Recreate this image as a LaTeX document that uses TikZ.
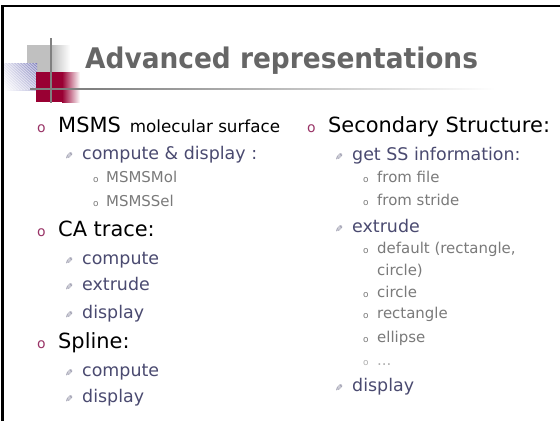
\documentclass[tikz,border=0pt]{standalone}
\usepackage{fontspec}
\usetikzlibrary{shadings}
\setmainfont{DejaVu Sans}
\newfontfamily\titlefont[FakeStretch=0.93]{DejaVu Sans}
\definecolor{titlegray}{RGB}{102,102,102}
\definecolor{bulletred}{RGB}{153,51,102}
\definecolor{subtext}{RGB}{74,74,112}
\definecolor{penmark}{RGB}{120,120,145}
\definecolor{leaftext}{RGB}{122,122,122}
\definecolor{logored}{RGB}{153,0,51}
\definecolor{logoblue}{RGB}{110,110,180}
\definecolor{logogray}{RGB}{192,192,192}
\newcommand{\penbullet}{\reflectbox{✎}}
\begin{document}
\begin{tikzpicture}[x=1bp,y=-1bp,
  every node/.style={inner sep=0pt,anchor=base west},
  titletext/.style={font=\titlefont\bfseries\fontsize{28.5}{32}\selectfont,text=titlegray},
  lvlone/.style={font=\fontsize{21}{25}\selectfont,text=black},
  lvltwo/.style={font=\fontsize{17.5}{21}\selectfont,text=subtext},
  lvlthree/.style={font=\fontsize{15}{18}\selectfont,text=leaftext},
  bulone/.style={font=\fontsize{14}{16}\selectfont,text=bulletred},
  bultwo/.style={font=\fontsize{9.5}{10}\selectfont,text=penmark},
  bulthree/.style={font=\fontsize{9}{10}\selectfont,text=leaftext},
]
%%
\fill[white] (0,0) rectangle (560,421);
\useasboundingbox (0,0) rectangle (560,421);
\draw[line width=2.4bp] (2.5,421) -- (2.5,6) -- (560,6);
% logo
\fill[logogray] (27,45) rectangle (52,73);
\shade[left color=logogray,right color=white] (52,45) rectangle (70,73);
\begin{scope}
  \clip (4,63) rectangle (37,90);
  \shade[upper left=white!80!logoblue,upper right=white!10!logoblue,lower left=white,lower right=white!55!logoblue] (4,63) rectangle (37,90);
  \foreach \k in {0,3,...,60}
    \draw[white,opacity=0.55,line width=0.9bp] (\k-26,63) -- (\k+4,90);
\end{scope}
\fill[logored] (36,72) rectangle (62,102);
\shade[left color=logored,right color=white] (62,72) rectangle (80,102);
\draw[gray,line width=1.6bp] (51,38) -- (51,103);
\fill[gray] (30,88.2) rectangle (90,89.8);
\shade[left color=gray,right color=white] (90,88.2) rectangle (495,89.8);
%
\node (title) at (85,68) [titletext] {Advanced representations};
% left column
  \node (bul_msms) at (37,132) [bulone] {o};
  \node (item_msms) at (58,132) [lvlone] {MSMS\hspace{9bp}{\fontsize{16.8}{20}\selectfont molecular surface}};
  \node (pen_cd) at (65,159) [bultwo] {\penbullet};
  \node (item_cd) at (82,159) [lvltwo] {compute \& display :};
  \node (dot_mol) at (93,182) [bulthree] {o};
  \node (item_mol) at (106,182) [lvlthree] {MSMSMol};
  \node (dot_sel) at (93,206) [bulthree] {o};
  \node (item_sel) at (106,206) [lvlthree] {MSMSSel};
  \node (bul_ca) at (37,236) [bulone] {o};
  \node (item_ca) at (58,236) [lvlone] {CA trace:};
  \node (pen_cacomp) at (65,264) [bultwo] {\penbullet};
  \node (item_cacomp) at (82,264) [lvltwo] {compute};
  \node (pen_caext) at (65,290) [bultwo] {\penbullet};
  \node (item_caext) at (82,290) [lvltwo] {extrude};
  \node (pen_cadisp) at (65,318) [bultwo] {\penbullet};
  \node (item_cadisp) at (82,318) [lvltwo] {display};
  \node (bul_spl) at (37,348) [bulone] {o};
  \node (item_spl) at (58,348) [lvlone] {Spline:};
  \node (pen_splcomp) at (65,376) [bultwo] {\penbullet};
  \node (item_splcomp) at (82,376) [lvltwo] {compute};
  \node (pen_spldisp) at (65,402) [bultwo] {\penbullet};
  \node (item_spldisp) at (82,402) [lvltwo] {display};
% right column
  \node (bul_ss) at (307,132) [bulone] {o};
  \node (item_ss) at (328,132) [lvlone] {Secondary Structure:};
  \node (pen_info) at (335,160) [bultwo] {\penbullet};
  \node (item_info) at (352,160) [lvltwo] {get SS information:};
  \node (dot_file) at (363,182) [bulthree] {o};
  \node (item_file) at (377,182) [lvlthree] {from file};
  \node (dot_stride) at (363,205) [bulthree] {o};
  \node (item_stride) at (377,205) [lvlthree] {from stride};
  \node (pen_ext) at (335,232) [bultwo] {\penbullet};
  \node (item_ext) at (352,232) [lvltwo] {extrude};
  \node (dot_def) at (363,253) [bulthree] {o};
  \node (item_def) at (377,253) [lvlthree] {default (rectangle,};
  \node (item_defb) at (377,275) [lvlthree] {circle)};
  \node (dot_circ) at (363,297) [bulthree] {o};
  \node (item_circ) at (377,297) [lvlthree] {circle};
  \node (dot_rect) at (363,318) [bulthree] {o};
  \node (item_rect) at (377,318) [lvlthree] {rectangle};
  \node (dot_ell) at (363,342) [bulthree] {o};
  \node (item_ell) at (377,342) [lvlthree] {ellipse};
  \node (dot_more) at (363,365) [bulthree,text=leaftext!60] {o};
  \node (item_more) at (377,365) [lvlthree,text=leaftext!60] {...};
  \node (pen_disp) at (335,391) [bultwo] {\penbullet};
  \node (item_disp) at (352,391) [lvltwo] {display};
%
\end{tikzpicture}
\end{document}
